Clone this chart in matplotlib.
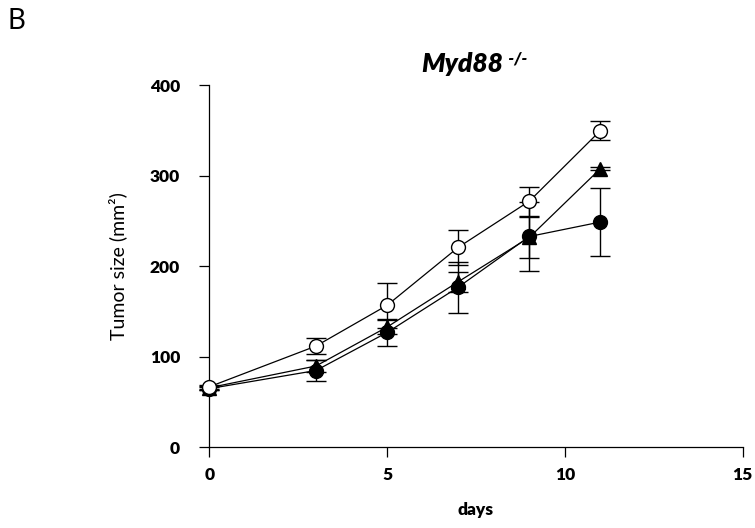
import matplotlib
matplotlib.use("Agg")
import matplotlib.pyplot as plt

plt.rcParams['font.family'] = ['Lato', 'DejaVu Sans']

# jours de mesure
days = [0, 3, 5, 7, 9, 11]

# cercles vides
open_mean = [67, 112, 157, 221, 272, 350]
open_err = [2, 9, 25, 19, 16, 10]

# triangles pleins
tri_mean = [66, 90, 133, 183, 232, 308]
tri_err = [2, 7, 8, 11, 23, 2]

# cercles pleins
filled_mean = [65, 85, 127, 177, 233, 249]
filled_err = [2, 12, 15, 28, 38, 38]

xticks = [0, 5, 10, 15]
yticks = [0, 100, 200, 300, 400]

fig = plt.figure(figsize=(7.55, 5.28), dpi=100)
ax = fig.add_axes([0.2772, 0.1525, 0.7065, 0.686])

common = dict(color='black', ecolor='black', elinewidth=1.0, capsize=7,
              capthick=1.0, linewidth=0.9, markersize=10, clip_on=False)

ax.errorbar(days, tri_mean, yerr=tri_err, fmt='-^', markerfacecolor='black',
            markeredgecolor='black', zorder=3, **common)
ax.errorbar(days, filled_mean, yerr=filled_err, fmt='-o', markerfacecolor='black',
            markeredgecolor='black', zorder=4, **common)
ax.errorbar(days, open_mean, yerr=open_err, fmt='-o', markerfacecolor='white',
            markeredgecolor='black', markeredgewidth=1.0, zorder=5, **common)

ax.set_xlim(0, 15)
ax.set_ylim(0, 400)
ax.set_xticks(xticks)
ax.set_yticks(yticks)
ax.spines['top'].set_visible(False)
ax.spines['right'].set_visible(False)
ax.spines['left'].set_linewidth(0.9)
ax.spines['bottom'].set_linewidth(0.9)
ax.tick_params(axis='both', direction='out', length=7, width=0.9, labelsize=12.5)
ax.tick_params(axis='y', pad=14)
ax.tick_params(axis='x', pad=7)
for lab in ax.get_xticklabels() + ax.get_yticklabels():
    lab.set_fontweight('heavy')

ax.set_xlabel('days', fontsize=12.5, fontweight='heavy', labelpad=14)
ax.set_ylabel('Tumor size (mm²)', fontsize=14, labelpad=16)

# titre avec exposant
t = ax.text(0.475, 1.025, 'Myd88', transform=ax.transAxes, ha='center', va='bottom',
            fontsize=19, fontweight='heavy', fontstyle='italic')
ax.annotate(' -/-', xy=(1, 1), xycoords=t, xytext=(1, 1), textcoords='offset points',
            ha='left', va='top', fontsize=12, fontweight='heavy', fontstyle='italic')

fig.text(0.01, 0.985, 'B', fontsize=20, ha='left', va='top')

fig.savefig('out.png', dpi=100)
